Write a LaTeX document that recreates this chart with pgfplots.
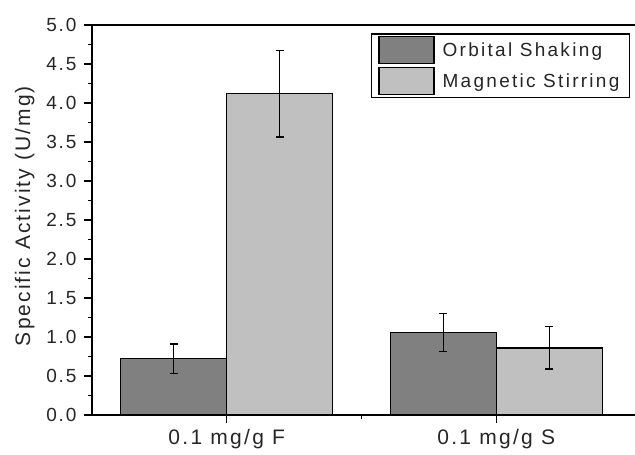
\documentclass[border=0pt]{standalone}
\usepackage{fontspec}
\setmainfont{Liberation Sans}
\newfontfamily\ytfont[LetterSpace=10]{Liberation Sans}
\newfontfamily\xtfont[LetterSpace=11]{Liberation Sans}
\newfontfamily\ylfont[LetterSpace=10]{Liberation Sans}
\newfontfamily\lgfont[LetterSpace=12]{Liberation Sans}
\usepackage{pgfplots}
\pgfplotsset{compat=1.18}
\definecolor{darkbar}{HTML}{808080}
\definecolor{lightbar}{HTML}{C0C0C0}
\begin{document}
\begin{tikzpicture}
\begin{axis}[
  scale only axis, width=543pt, height=390pt,
  xmin=0.5, xmax=2.515, ymin=0, ymax=5,
  axis x line*=bottom, axis y line*=left,
  axis line style={line width=1.2pt},
  every tick/.style={black, line width=1.1pt},
  tick align=outside,
  major tick length=8pt, minor tick length=4pt,
  xtick={1,2}, xticklabels={0.1 mg/g F, 0.1 mg/g S},
  minor xtick={1.5},
  ytick={0,0.5,...,5.0},
  minor y tick num=1,
  /pgf/number format/assume math mode=true,
  y tick label style={/pgf/number format/fixed, /pgf/number format/fixed zerofill, /pgf/number format/precision=1},
  y tick label style={/tikz/font={\fontsize{19}{21}\ytfont}, /tikz/text=black!85, /tikz/xshift=-4pt},
  x tick label style={/tikz/font={\fontsize{21}{23}\xtfont}, /tikz/text=black!85, /tikz/yshift=-3pt},
  ylabel={Specific Activity (U/mg)},
  ylabel style={/tikz/font={\fontsize{21}{23}\ylfont}, /tikz/text=black!85, at={(axis description cs:-0.124,0.51)}, anchor=center},
  ybar, bar width=0.393,
  error bars/y dir=both, error bars/y explicit,
  error bars/error bar style={line width=1.2pt, black},
  error bars/error mark options={rotate=90, mark size=4pt, line width=1.2pt, black},
  legend style={at={(axis description cs:0.991,0.979)}, anchor=north east,
    draw=black, line width=1.4pt, inner xsep=7pt, inner ysep=2pt,
    font={\fontsize{19}{21}\lgfont}, text=black!85,
    row sep=3pt, column sep=5pt, nodes={inner xsep=3pt, inner ysep=1pt}},
  legend cell align=left,
]
\addplot[draw=black, line width=1.2pt, fill=darkbar, bar shift=-0.1965,
  legend image code/.code={\draw[draw=black, line width=1.2pt, fill=darkbar] (0pt,-13pt) rectangle (55pt,14pt);}]
  coordinates {(1,0.72) +- (0,0.19) (2,1.06) +- (0,0.245)};
\addlegendentry{Orbital Shaking}
\addplot[draw=black, line width=1.2pt, fill=lightbar, bar shift=0.1965,
  legend image code/.code={\draw[draw=black, line width=1.2pt, fill=lightbar] (0pt,-13pt) rectangle (55pt,14pt);}]
  coordinates {(1,4.12) +- (0,0.555) (2,0.86) +- (0,0.27)};
\addlegendentry{Magnetic Stirring}
\draw[line width=1.2pt] (rel axis cs:0,1) -- (rel axis cs:1,1);
\coordinate (O) at (rel axis cs:0,0);
\coordinate (T) at (rel axis cs:1,1);
\end{axis}
\pgfresetboundingbox
\path (O) ++(-92pt,-40pt) coordinate (BL);
\path (T) ++(0pt,25pt) coordinate (TR);
\path[use as bounding box] (BL) rectangle (TR);
\end{tikzpicture}
\end{document}
